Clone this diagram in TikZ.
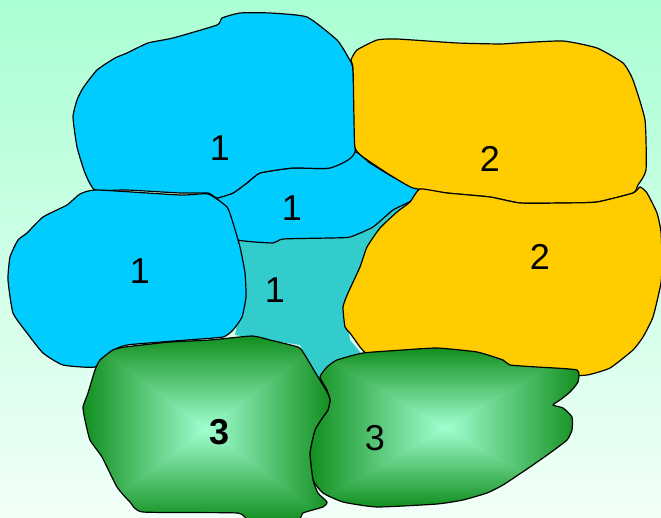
\documentclass[tikz,border=0pt]{standalone}
\usepackage{fontspec}
\setmainfont{Liberation Sans}
\definecolor{bgtop}{RGB}{170,255,212}
\definecolor{bgbot}{RGB}{242,255,249}
\definecolor{cyanb}{RGB}{0,204,255}
\definecolor{tealb}{RGB}{51,204,204}
\definecolor{orangeb}{RGB}{255,204,0}
\pgfdeclarefunctionalshading{rectgrad}{\pgfpoint{-50bp}{-50bp}}{\pgfpoint{50bp}{50bp}}{}{
abs exch abs 2 copy sub abs add add 50 div
dup 1 gt {pop 1} if
dup dup 0.70 mul 0.82 exch sub exch 0.44 mul 1 exch sub exch 3 2 roll 0.56 mul 0.63 exch sub 3 1 roll
}
\tikzset{
  blob/.style={draw=black, line width=1.2pt, line join=round},
  sm/.style={smooth cycle, tension=0.3},
  lbl/.style={font=\fontsize{36}{40}\selectfont, inner sep=0pt}
}
\begin{document}
\begin{tikzpicture}[x=1pt, y=-1pt]
\useasboundingbox (0,0) rectangle (661,518);
\shade[top color=bgtop, bottom color=bgbot] (0,0) rectangle (661,518);
% teal gap region
\fill[tealb] (225,215) -- (410,190) -- (425,188) -- (400,215) -- (370,250) -- (345,300) -- (350,340) -- (375,370) -- (325,395) -- (300,345) -- (235,335) -- (245,280) -- cycle;
% middle cyan
\path[blob, fill=cyanb] plot[sm] coordinates {(217,198) (233,193) (247,183) (260,173) (293,168) (330,168) (355,152) (370,163) (393,177) (420,189) (413,200) (393,210) (373,227) (350,237) (330,238) (283,239) (273,243) (238,240) (233,227) (227,208)};
% top cyan
\path[blob, fill=cyanb] plot[sm] coordinates {(95,190) (85,173) (77,147) (73,117) (77,100) (83,88) (97,70) (115,58) (127,53) (148,43) (173,38) (217,25) (222,18) (240,13) (270,13) (307,17) (337,40) (348,57) (353,70) (355,152) (330,168) (293,168) (260,173) (247,183) (233,193) (217,198) (208,193) (180,193) (127,190)};
% left cyan
\path[blob, fill=cyanb] plot[sm] coordinates {(80,194) (97,190) (180,195) (208,194) (227,207) (233,223) (240,247) (245,273) (246,297) (242,317) (233,330) (223,337) (187,340) (127,345) (110,352) (95,367) (63,365) (43,353) (27,333) (13,313) (8,280) (10,257) (18,240) (27,233) (43,217) (67,205)};
% top orange
\path[blob, fill=orangeb] plot[sm] coordinates {(353,68) (351,60) (357,50) (377,40) (397,39) (457,43) (500,44) (517,43) (563,41) (597,48) (623,63) (633,80) (645,120) (646,170) (638,185) (633,193) (597,202) (563,203) (520,203) (490,197) (447,193) (413,188) (390,175) (363,157) (355,148) (354,120)};
% lower orange
\path[blob, fill=orangeb] plot[sm] coordinates {(420,189) (447,193) (490,197) (520,203) (563,203) (597,202) (633,193) (640,187) (647,193) (657,213) (661,232) (662,260) (661,283) (653,317) (643,337) (633,350) (610,368) (587,375) (560,375) (450,360) (375,368) (367,355) (360,347) (350,333) (345,327) (343,307) (348,293) (360,267) (367,247) (380,228) (397,212) (410,202)};
% right green
\shadedraw[blob, shading=rectgrad] plot[sm] coordinates {(320,377) (327,367) (337,360) (363,353) (403,350) (437,348) (477,352) (503,360) (510,365) (537,367) (577,370) (578,382) (570,392) (560,400) (553,405) (563,408) (572,417) (572,430) (567,440) (550,453) (530,467) (503,485) (487,493) (463,500) (437,504) (377,507) (343,502) (323,493) (313,480) (310,453) (315,430) (323,417) (328,410) (330,400) (327,390)};
% left green
\shadedraw[blob, shading=rectgrad] plot[sm] coordinates {(125,347) (170,342) (210,340) (252,336) (270,340) (298,347) (303,352) (318,377) (327,392) (330,400) (328,410) (323,417) (315,430) (310,453) (313,480) (318,493) (327,502) (323,507) (303,513) (297,521) (250,521) (237,513) (143,512) (130,502) (117,487) (102,457) (90,440) (85,420) (83,407) (88,393) (95,370) (100,360) (113,350)};
% labels
\node[lbl] (la) at (220,148) {1};
\node[lbl] (lb) at (292,208) {1};
\node[lbl] (lc) at (140,271) {1};
\node[lbl] (ld) at (275,290) {1};
\node[lbl] (le) at (490,159) {2};
\node[lbl] (lf) at (540,257) {2};
\node[lbl, font=\fontsize{36}{40}\selectfont\bfseries] (lg) at (220,432) {3};
\node[lbl] (lh) at (375,438) {3};
\end{tikzpicture}
\end{document}
